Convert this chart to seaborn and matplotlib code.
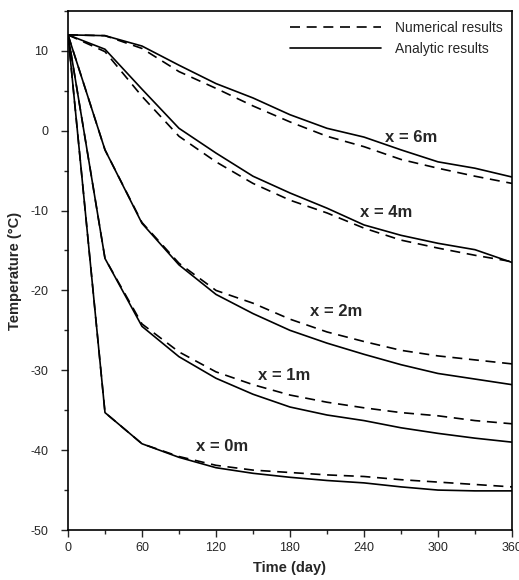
import matplotlib

matplotlib.use("Agg")

import matplotlib.pyplot as plt
import pandas as pd
import seaborn as sns
from matplotlib.lines import Line2D
from matplotlib.ticker import MultipleLocator

# 时间节点（天）
days = [0, 30, 60, 90, 120, 150, 180, 210, 240, 270, 300, 330, 360]

# 解析解（实线）
analytic_0m = [12, -35.3, -39.2, -40.9, -42.2, -42.9, -43.4, -43.8, -44.1, -44.6, -45.0, -45.1, -45.1]
analytic_1m = [12, -16.0, -24.5, -28.3, -31.0, -33.0, -34.6, -35.6, -36.3, -37.2, -37.9, -38.5, -39.0]
analytic_2m = [12, -2.4, -11.6, -16.8, -20.5, -22.9, -25.0, -26.6, -28.0, -29.3, -30.4, -31.1, -31.8]
analytic_4m = [12, 10.2, 5.2, 0.3, -2.8, -5.7, -7.8, -9.7, -11.8, -13.1, -14.1, -14.9, -16.5]
analytic_6m = [12, 11.9, 10.6, 8.2, 5.9, 4.1, 2.0, 0.3, -0.8, -2.4, -3.9, -4.7, -5.8]

# 数值解（虚线）
numerical_0m = [12, -35.3, -39.2, -40.8, -41.9, -42.5, -42.8, -43.1, -43.3, -43.7, -44.0, -44.3, -44.6]
numerical_1m = [12, -16.0, -24.2, -27.7, -30.2, -31.8, -33.1, -34.0, -34.7, -35.3, -35.7, -36.3, -36.7]
numerical_2m = [12, -2.4, -11.5, -16.6, -20.0, -21.6, -23.6, -25.2, -26.4, -27.5, -28.2, -28.7, -29.2]
numerical_4m = [12, 9.9, 4.3, -0.7, -3.9, -6.6, -8.7, -10.3, -12.2, -13.7, -14.7, -15.6, -16.4]
numerical_6m = [12, 11.9, 10.3, 7.4, 5.3, 3.1, 1.1, -0.7, -2.0, -3.6, -4.7, -5.7, -6.6]

depth_labels = ["x = 0m", "x = 1m", "x = 2m", "x = 4m", "x = 6m"]
label_pos = [(104, -39.5), (154, -30.6), (196, -22.6), (237, -10.3), (257, -0.8)]

analytic = [analytic_0m, analytic_1m, analytic_2m, analytic_4m, analytic_6m]
numerical = [numerical_0m, numerical_1m, numerical_2m, numerical_4m, numerical_6m]

rows = []
for name, a_vals, n_vals in zip(depth_labels, analytic, numerical):
    for d, a, n in zip(days, a_vals, n_vals):
        rows.append({"day": d, "temp": a, "depth": name, "method": "Analytic results"})
        rows.append({"day": d, "temp": n, "depth": name, "method": "Numerical results"})
df = pd.DataFrame(rows)

sns.set_theme(style="ticks")
plt.rcParams["font.family"] = ["Liberation Sans", "DejaVu Sans"]
plt.rcParams["axes.unicode_minus"] = False

fig = plt.figure(figsize=(5.19, 5.8), dpi=100)
ax = fig.add_axes([0.131, 0.0862, 0.8555, 0.895])

dash_style = (0, (6, 4))
for method, ls in [("Numerical results", dash_style), ("Analytic results", "-")]:
    sub = df[df["method"] == method]
    for name in depth_labels:
        part = sub[sub["depth"] == name]
        sns.lineplot(data=part, x="day", y="temp", ax=ax, color="black",
                     linewidth=1.2, linestyle=ls, estimator=None, sort=False)

for name, (tx, ty) in zip(depth_labels, label_pos):
    ax.text(tx, ty, name, fontsize=12, fontweight="bold", va="center", ha="left")

ax.set_xlim(0, 360)
ax.set_ylim(-50, 15)
ax.xaxis.set_major_locator(MultipleLocator(60))
ax.xaxis.set_minor_locator(MultipleLocator(30))
ax.yaxis.set_major_locator(MultipleLocator(10))
ax.yaxis.set_minor_locator(MultipleLocator(5))
ax.tick_params(axis="both", which="major", direction="out", length=5, width=1, labelsize=9)
ax.tick_params(axis="y", which="major", pad=9)
ax.tick_params(axis="both", which="minor", direction="out", length=3, width=1)
for sp in ax.spines.values():
    sp.set_linewidth(1.2)
    sp.set_color("black")

ax.set_xlabel("Time (day)", fontsize=10.5, fontweight="bold", labelpad=5)
ax.set_ylabel("Temperature (°C)", fontsize=10.5, fontweight="bold", labelpad=6)

handles = [
    Line2D([0], [0], color="black", linewidth=1.2, linestyle=dash_style),
    Line2D([0], [0], color="black", linewidth=1.2, linestyle="-"),
]
ax.legend(handles, ["Numerical results", "Analytic results"], loc="upper right",
          frameon=False, fontsize=10, handlelength=6.5, handletextpad=1.0,
          labelspacing=0.5, borderaxespad=0.3)

fig.savefig("out.png", dpi=100)
plt.close(fig)
